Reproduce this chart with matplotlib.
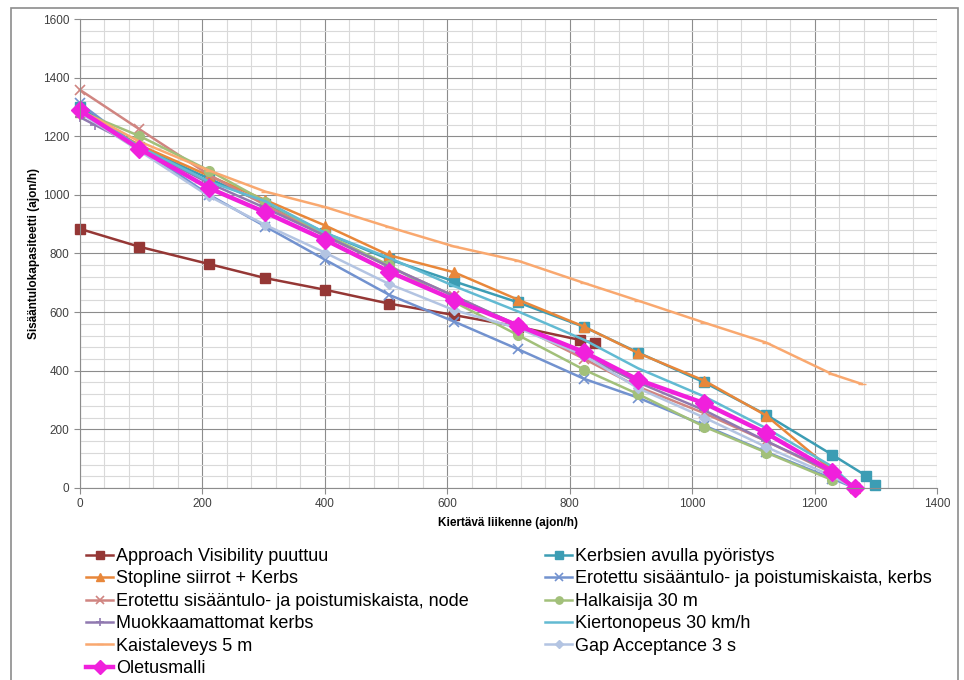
import matplotlib
matplotlib.use("Agg")
import matplotlib.pyplot as plt
from matplotlib.patches import Rectangle
from matplotlib.ticker import MultipleLocator

plt.rcParams['font.family'] = ['Liberation Sans', 'DejaVu Sans']

# luetut arvot kuvasta
x_common = [0, 97, 211, 303, 401, 505, 611, 716, 824, 912, 1020, 1121, 1229, 1266]

x_appr = [0, 97, 211, 303, 401, 505, 611, 716, 817, 841]
y_appr = [884, 823, 764, 716, 676, 629, 590, 550, 505, 495]

x_kerbsien = [0, 97, 211, 303, 401, 505, 611, 716, 824, 912, 1020, 1121, 1229, 1284, 1299]
y_kerbsien = [1300, 1165, 1055, 970, 870, 780, 705, 633, 549, 462, 360, 250, 113, 42, 10]

y_stopline = [1283, 1170, 1065, 982, 895, 794, 736, 642, 550, 460, 366, 247, 60, 0]

y_erot_kerbs = [1312, 1160, 1000, 892, 778, 659, 568, 473, 372, 308, 213, 123, 32, 0]

y_erot_node = [1358, 1224, 1068, 965, 860, 755, 655, 553, 440, 345, 255, 160, 50, 0]

x_halk = [0, 97, 211, 303, 401, 505, 611, 716, 824, 912, 1020, 1121, 1229]
y_halk = [1285, 1201, 1083, 977, 865, 760, 635, 521, 403, 320, 209, 121, 27]

x_muokk = [0, 25, 211, 303, 401, 505, 611, 716, 824, 912, 1020, 1121, 1229, 1266]
y_muokk = [1265, 1238, 1040, 955, 860, 755, 655, 555, 450, 360, 265, 160, 55, 0]

y_kierto = [1290, 1165, 1045, 978, 870, 785, 689, 602, 505, 408, 312, 204, 73, 0]

x_kaista = [0, 97, 211, 303, 401, 505, 611, 716, 824, 912, 1020, 1121, 1229, 1277]
y_kaista = [1290, 1182, 1083, 1011, 958, 890, 824, 775, 699, 639, 564, 496, 388, 355]

y_gap = [1280, 1150, 995, 897, 802, 696, 607, 545, 452, 340, 240, 140, 40, 0]

y_oletus = [1288, 1157, 1023, 940, 846, 738, 642, 554, 463, 369, 289, 187, 56, 0]

fig = plt.figure(figsize=(9.64, 6.8), dpi=100)
ax = fig.add_axes([80/964, 1-488/680, 857/964, 469/680])

lw = 1.8
lines = {}
lines['appr'], = ax.plot(x_appr, y_appr, color='#953735', lw=lw, marker='s', ms=7,
                         label='Approach Visibility puuttuu')
lines['kerbsien'], = ax.plot(x_kerbsien, y_kerbsien, color='#3C9DB4', lw=lw, marker='s', ms=7,
                             label='Kerbsien avulla pyöristys')
lines['stop'], = ax.plot(x_common, y_stopline, color='#E8873A', lw=lw, marker='^', ms=7,
                         label='Stopline siirrot + Kerbs')
lines['erk'], = ax.plot(x_common, y_erot_kerbs, color='#7292CF', lw=lw, marker='x', ms=7, mew=1.2,
                        label='Erotettu sisääntulo- ja poistumiskaista, kerbs')
lines['ern'], = ax.plot(x_common, y_erot_node, color='#D08581', lw=lw, marker='x', ms=7, mew=1.2,
                        label='Erotettu sisääntulo- ja poistumiskaista, node')
lines['halk'], = ax.plot(x_halk, y_halk, color='#A2C07A', lw=lw, marker='o', ms=7,
                         label='Halkaisija 30 m')
lines['muokk'], = ax.plot(x_muokk, y_muokk, color='#9079B0', lw=lw, marker='+', ms=7, mew=1.2,
                          label='Muokkaamattomat kerbs')
lines['kierto'], = ax.plot(x_common, y_kierto, color='#62BAD2', lw=lw,
                           label='Kiertonopeus 30 km/h')
lines['kaista'], = ax.plot(x_kaista, y_kaista, color='#F9A86F', lw=lw, marker='_', ms=6,
                           label='Kaistaleveys 5 m')
lines['gap'], = ax.plot(x_common, y_gap, color='#B3C4E2', lw=lw, marker='D', ms=5,
                        label='Gap Acceptance 3 s')
lines['olet'], = ax.plot(x_common, y_oletus, color='#F020DC', lw=3.2, marker='D', ms=9,
                         label='Oletusmalli')
for ln in lines.values():
    ln.set_clip_on(False)

ax.set_xlim(0, 1400)
ax.set_ylim(0, 1600)
ax.xaxis.set_major_locator(MultipleLocator(200))
ax.yaxis.set_major_locator(MultipleLocator(200))
ax.xaxis.set_minor_locator(MultipleLocator(40))
ax.yaxis.set_minor_locator(MultipleLocator(40))
ax.grid(which='major', color='#8C8C8C', lw=0.8)
ax.grid(which='minor', color='#D9D9D9', lw=0.8)
ax.set_axisbelow(True)
ax.tick_params(which='minor', length=0)
ax.tick_params(which='major', length=4, color='#8C8C8C', labelsize=8.5, labelcolor='#404040')
for s in ['top', 'right']:
    ax.spines[s].set_visible(False)
for s in ['left', 'bottom']:
    ax.spines[s].set_color('#8C8C8C')

ax.set_xlabel('Kiertävä liikenne (ajon/h)', fontsize=8.5, fontweight='bold', labelpad=5)
ax.set_ylabel('Sisääntulokapasiteetti (ajon/h)', fontsize=8.5, fontweight='bold', labelpad=2)

left_keys = ['appr', 'stop', 'ern', 'muokk', 'kaista', 'olet']
right_keys = ['kerbsien', 'erk', 'halk', 'kierto', 'gap']
leg_kw = dict(frameon=False, fontsize=13, handlelength=1.5, handletextpad=0.15,
              labelspacing=0.3, loc='upper left', borderaxespad=0, borderpad=0,
              markerscale=0.75)
leg1 = fig.legend(handles=[lines[k] for k in left_keys], bbox_to_anchor=(86/964, 1-548/680), **leg_kw)
leg2 = fig.legend(handles=[lines[k] for k in right_keys], bbox_to_anchor=(545/964, 1-548/680), **leg_kw)

fig.patches.append(Rectangle((11/964, -0.02), 947/964, 1-8/680+0.02, transform=fig.transFigure,
                             fill=False, edgecolor='#8C8C8C', lw=1.2))

fig.savefig('out.png', dpi=100)
